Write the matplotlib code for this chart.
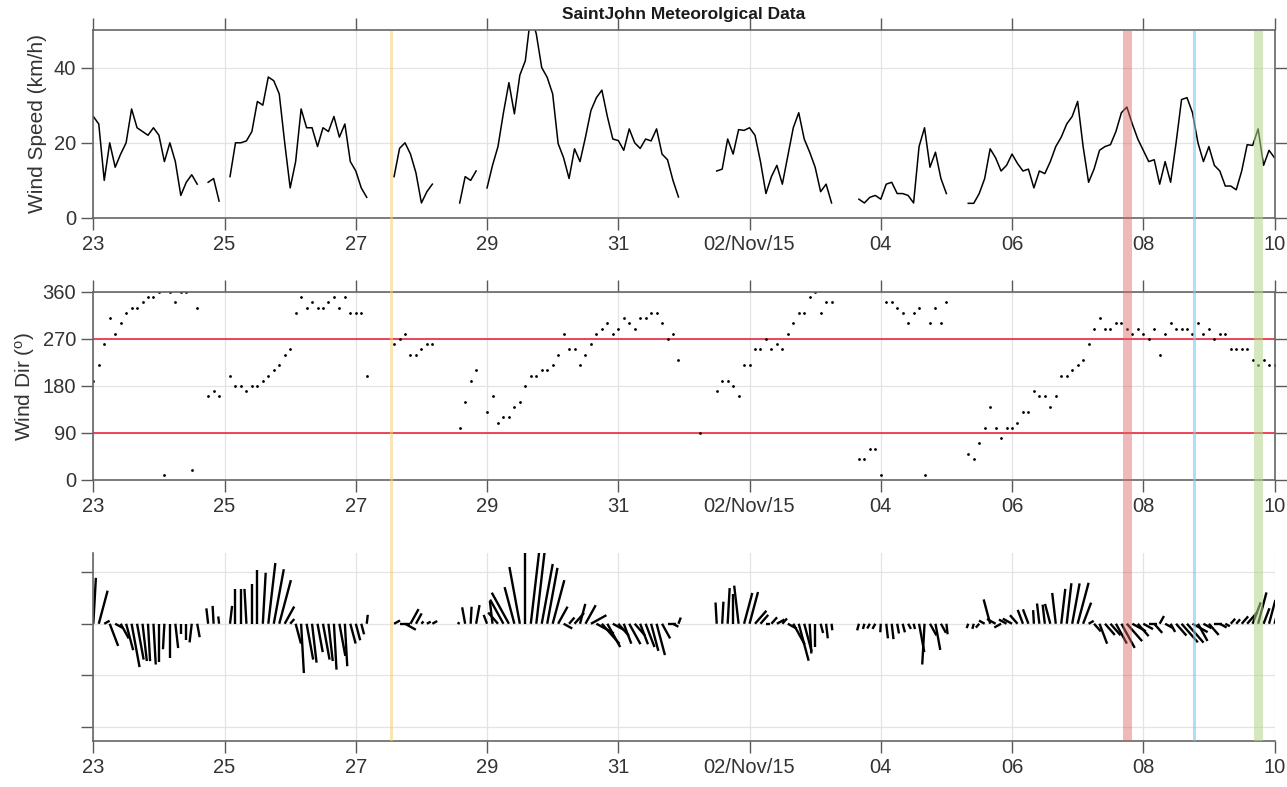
import numpy as np
import pandas as pd
import matplotlib
matplotlib.use('Agg')
import matplotlib.pyplot as plt
import matplotlib.dates as mdates
from matplotlib.collections import LineCollection

nan = np.nan

# 2-hourly record, Saint John, 23 Oct - 10 Nov 2015
start = '2015-10-23 00:00'
speed = [27, 25, 10, 20, 13.5, 17, 20, 29, 24, 23, 22, 24,
         22, 15, 20, 15, 6, 9.5, 11.5, 9, nan, 9.5, 10.5, 4.5,
         nan, 11, 20, 20, 20.5, 23, 31, 30, 37.5, 36.5, 33, 20,
         8, 15, 29, 24, 24, 19, 24, 23, 27, 21.5, 25, 15,
         12.5, 8, 5.5, nan, nan, nan, nan, 11, 18.5, 20, 17, 12,
         4, 7, 9, nan, nan, nan, nan, 4, 11, 10, 12.5, nan,
         8, 14, 19, 28, 36, 27.7, 38, 41.8, 54, 49, 40, 37.4,
         33, 19.8, 16, 10.5, 18.4, 15, 21.5, 28.6, 32, 34, 27, 21,
         20.6, 18, 23.7, 20, 18.5, 21, 20.5, 23.7, 17, 15.5, 10, 5.6,
         nan, nan, nan, nan, nan, nan, 12.5, 13, 21, 17, 23.5, 23.3,
         24, 22, 15, 6.5, 11, 14, 9, 16.5, 24, 28, 21, 17.5,
         13.5, 7, 9, 4, nan, nan, nan, nan, 5, 4, 5.5, 6,
         5, 9, 9.5, 6.5, 6.5, 6, 4, 19, 24, 13.5, 17.5, 10.5,
         6.5, nan, nan, nan, 3.9, 3.9, 6.5, 10.5, 18.4, 16, 12.5, 14,
         17, 14.5, 12.5, 13, 8, 12.5, 11.8, 15, 19, 21.5, 25, 27,
         31, 19, 9.5, 13, 18, 19, 19.5, 23, 28, 29.5, 25, 21,
         18, 15, 15.5, 9, 15, 9.5, 20, 31.5, 32, 28, 20, 15,
         19, 14, 12.5, 8.5, 8.5, 7.5, 12.5, 19.5, 19.3, 23.7, 14, 18,
         16]
wdir = [190, 220, 260, 310, 280, 300, 320, 330, 330, 340, 350, 350,
        360, 10, 360, 340, 360, 360, 20, 330, nan, 160, 170, 160,
        nan, 200, 180, 180, 170, 180, 180, 190, 200, 210, 220, 240,
        250, 320, 350, 330, 340, 330, 330, 340, 350, 330, 350, 320,
        320, 320, 200, nan, nan, nan, nan, 260, 270, 280, 240, 240,
        250, 260, 260, nan, nan, nan, nan, 100, 150, 190, 210, nan,
        130, 160, 110, 120, 120, 140, 150, 180, 200, 200, 210, 210,
        220, 240, 280, 250, 250, 220, 240, 260, 280, 290, 300, 280,
        290, 310, 300, 290, 310, 310, 320, 320, 300, 270, 280, 230,
        nan, nan, nan, 90, nan, nan, 170, 190, 190, 180, 160, 220,
        220, 250, 250, 270, 250, 260, 250, 280, 300, 320, 320, 350,
        360, 320, 340, 340, nan, nan, nan, nan, 40, 40, 60, 60,
        10, 340, 340, 330, 320, 300, 320, 330, 10, 300, 330, 300,
        340, nan, nan, nan, 50, 40, 70, 100, 140, 100, 80, 100,
        100, 110, 130, 130, 170, 160, 160, 140, 160, 200, 200, 210,
        220, 230, 260, 290, 310, 290, 290, 300, 300, 290, 280, 290,
        280, 270, 290, 240, 280, 300, 290, 290, 290, 280, 300, 280,
        290, 270, 280, 280, 250, 250, 250, 250, 230, 220, 230, 220,
        220]

xtick_dates = ['2015-10-23', '2015-10-25', '2015-10-27', '2015-10-29', '2015-10-31',
               '2015-11-02', '2015-11-04', '2015-11-06', '2015-11-08', '2015-11-10']
xtick_labels = ['23', '25', '27', '29', '31', '02/Nov/15', '04', '06', '08', '10']

# highlighted periods
mark_start = ['2015-10-27 12:20', '2015-11-07 16:30', '2015-11-08 18:10', '2015-11-09 16:20']
mark_end = ['2015-10-27 13:30', '2015-11-07 20:00', '2015-11-08 19:25', '2015-11-09 19:50']
mark_color = ['#f7cf73', '#dc6464', '#7cc8ee', '#b3d58c']
mark_alpha = [0.55, 0.45, 0.6, 0.55]

plt.rcParams['font.family'] = ['Liberation Sans', 'DejaVu Sans']
plt.rcParams['mathtext.default'] = 'regular'

t = pd.date_range(start, periods=len(speed), freq='2h')
tn = mdates.date2num(t.to_pydatetime())
ws = np.array(speed, dtype=float)
wd = np.array(wdir, dtype=float)
xt = mdates.date2num(pd.to_datetime(xtick_dates).to_pydatetime())
x0, x1 = xt[0], xt[-1]

def style(ax, box=True):
    ax.set_xlim(x0, x1)
    ax.set_xticks(xt)
    ax.set_xticklabels(xtick_labels)
    ax.set_axisbelow(True)
    ax.grid(True, color='0.89', lw=0.9)
    ax.tick_params(direction='out', length=8.5, width=1.0, color='0.35',
                   labelsize=14.5, labelcolor='0.2', pad=4, top=box, right=box)
    for s in ax.spines.values():
        s.set_color('0.4')
        s.set_linewidth(1.2)
    if not box:
        ax.spines['top'].set_visible(False)
        ax.spines['right'].set_visible(False)

fig = plt.figure(figsize=(12.87, 7.87), dpi=100)
L, W, H = 0.0725, 0.9178, 0.2389

# wind speed
ax1 = fig.add_axes([L, 0.7230, W, H])
ax1.plot(tn, ws, color='k', lw=1.1)
ax1.set_ylim(0, 50)
ax1.set_yticks([0, 20, 40])
style(ax1)
ax1.set_ylabel('Wind Speed (km/h)', fontsize=15, color='0.2')
ax1.yaxis.set_label_coords(-0.039, 0.5)
ax1.text(0.5, 1.08, 'SaintJohn Meteorolgical Data', transform=ax1.transAxes,
         ha='center', va='center', fontsize=12.5, fontweight='bold', color='0.1')

# wind direction
ax2 = fig.add_axes([L, 0.3901, W, H])
ax2.axhline(90, color='#e8283c', lw=1.2)
ax2.axhline(270, color='#e8283c', lw=1.2)
ax2.plot(tn, wd, '.', color='k', ms=2)
ax2.set_ylim(0, 360)
ax2.set_yticks([0, 90, 180, 270, 360])
style(ax2)
ax2.set_ylabel('Wind Dir ($^o$)', fontsize=15, color='0.2')
ax2.yaxis.set_label_coords(-0.048, 0.5)

# stick plot
ax3 = fig.add_axes([L, 0.0584, W, H])
u = -ws * np.sin(np.radians(wd))
v = -ws * np.cos(np.radians(wd))
ok = ~np.isnan(u)
k = 0.55 / 65.65
segs = [[(a, 0), (a + b * k, c)] for a, b, c in zip(tn[ok], u[ok], v[ok])]
ax3.add_collection(LineCollection(segs, colors='k', linewidths=1.7))
ax3.set_ylim(-68, 41)
ax3.set_yticks([-60, -30, 0, 30])
ax3.set_yticklabels([])
style(ax3, box=False)

# highlight bands across all panels
ov = fig.add_axes([L, 0.0584, W, 0.9606 - 0.0584])
ov.set_xlim(x0, x1)
ov.set_ylim(0, 1)
ov.axis('off')
for s, e, c, a in zip(mark_start, mark_end, mark_color, mark_alpha):
    ov.axvspan(mdates.date2num(pd.Timestamp(s).to_pydatetime()),
               mdates.date2num(pd.Timestamp(e).to_pydatetime()),
               color=c, alpha=a, lw=0)

fig.savefig('out.png', dpi=100)
